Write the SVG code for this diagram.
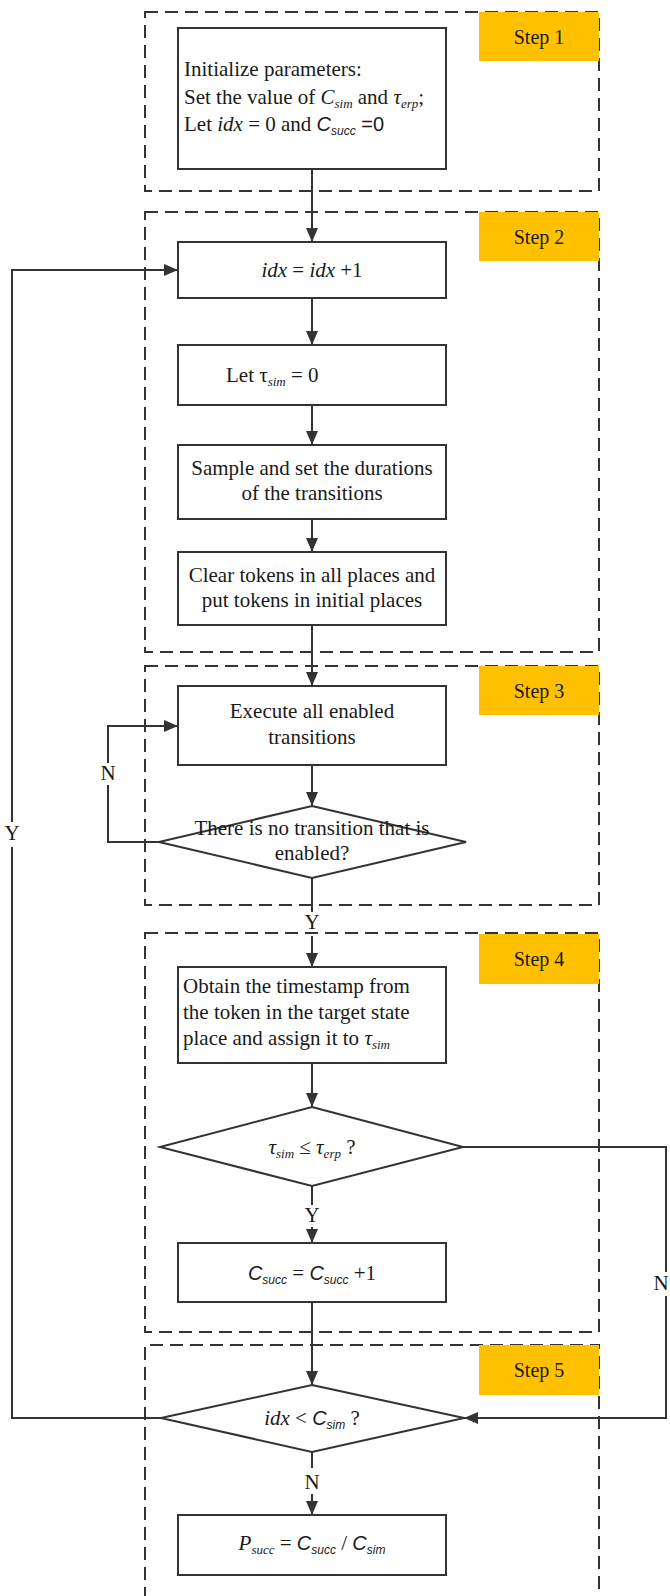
<svg xmlns="http://www.w3.org/2000/svg" width="670" height="1596" viewBox="0 0 670 1596">
<defs>
<marker id="ah" markerUnits="userSpaceOnUse" markerWidth="14" markerHeight="12" refX="14" refY="6" orient="auto">
<path d="M0,0 L14,6 L0,12 z" fill="#333"/>
</marker>
<style>
.t{font-family:"Liberation Serif","Times New Roman",serif;font-size:21px;fill:#1a1a1a}
.c{text-anchor:middle}
.i{font-style:italic}
.sans{font-family:"Liberation Sans",Arial,sans-serif;font-size:20px}
.sub{font-size:13px;font-style:italic}
.ssub{font-family:"Liberation Sans",Arial,sans-serif;font-size:12px;font-style:italic}
.box{fill:#fff;stroke:#333;stroke-width:2}
.dash{fill:none;stroke:#333;stroke-width:2;stroke-dasharray:13 7}
.step{fill:#FFC000}
.st{font-family:"Liberation Serif","Times New Roman",serif;font-size:20px;fill:#1a1a1a;text-anchor:middle}
.ln{fill:none;stroke:#333;stroke-width:2}
</style>
</defs>
<rect width="670" height="1596" fill="#fff"/>

<g id="step-frames">
<rect class="dash" x="145" y="12" width="454" height="179"/>
<rect class="dash" x="145" y="212" width="454" height="440"/>
<rect class="dash" x="145" y="666" width="454" height="239"/>
<rect class="dash" x="145" y="933" width="454" height="399"/>
<path class="dash" d="M145,1600 V1345 H599 V1600"/>
</g>

<g id="step1-label"><rect class="step" x="479" y="12" width="120" height="49"/><text class="st" x="539" y="43.5">Step 1</text></g>
<g id="step2-label"><rect class="step" x="479" y="212" width="120" height="49"/><text class="st" x="539" y="243.5">Step 2</text></g>
<g id="step3-label"><rect class="step" x="479" y="666" width="120" height="49"/><text class="st" x="539" y="697.5">Step 3</text></g>
<g id="step4-label"><rect class="step" x="479" y="934" width="120" height="50"/><text class="st" x="539" y="966">Step 4</text></g>
<g id="step5-label"><rect class="step" x="479" y="1345" width="120" height="50"/><text class="st" x="539" y="1377">Step 5</text></g>

<g id="connectors">
<path class="ln" d="M312,169 V242" marker-end="url(#ah)"/>
<path class="ln" d="M312,298 V345" marker-end="url(#ah)"/>
<path class="ln" d="M312,405 V445" marker-end="url(#ah)"/>
<path class="ln" d="M312,519 V552" marker-end="url(#ah)"/>
<path class="ln" d="M312,625 V686" marker-end="url(#ah)"/>
<path class="ln" d="M312,765 V806" marker-end="url(#ah)"/>
<path class="ln" d="M312,878 V912 M312,936 V967" marker-end="url(#ah)"/>
<path class="ln" d="M159,842 H108 V785 M108,763 V726 H178" marker-end="url(#ah)"/>
<path class="ln" d="M312,1063 V1107" marker-end="url(#ah)"/>
<path class="ln" d="M312,1186 V1205 M312,1227 V1243" marker-end="url(#ah)"/>
<path class="ln" d="M463,1147 H666 V1272 M666,1296 V1418 H464" marker-end="url(#ah)"/>
<path class="ln" d="M312,1302 V1385" marker-end="url(#ah)"/>
<path class="ln" d="M161,1418 H12 V847 M12,822 V270 H178" marker-end="url(#ah)"/>
<path class="ln" d="M312,1452 V1468 M312,1494 V1515" marker-end="url(#ah)"/>
<text class="t c" x="108" y="780">N</text>
<text class="t c" x="12" y="840">Y</text>
<text class="t c" x="312" y="929">Y</text>
<text class="t c" x="312" y="1222">Y</text>
<text class="t c" x="661" y="1290">N</text>
<text class="t c" x="312" y="1489">N</text>
</g>

<g id="init">
<rect class="box" x="178" y="28" width="268" height="141"/>
<text class="t" x="184" y="76">Initialize parameters:</text>
<text class="t" x="184" y="104">Set the value of <tspan class="i">C</tspan><tspan class="sub" dy="4">sim</tspan><tspan dy="-4"> and </tspan><tspan class="i">τ</tspan><tspan class="sub" dy="4">erp</tspan><tspan dy="-4">;</tspan></text>
<text class="t" x="184" y="131">Let <tspan class="i">idx</tspan> = 0 and <tspan class="sans i">C</tspan><tspan class="ssub" dy="4">succ</tspan><tspan class="sans" dy="-4"> =0</tspan></text>
</g>

<g id="idx-inc">
<rect class="box" x="178" y="242" width="268" height="56"/>
<text class="t c" x="312" y="277"><tspan class="i">idx</tspan> = <tspan class="i">idx</tspan> +1</text>
</g>

<g id="let-tau">
<rect class="box" x="178" y="345" width="268" height="60"/>
<text class="t" x="226" y="382">Let τ<tspan class="sub" dy="4">sim</tspan><tspan dy="-4"> = 0</tspan></text>
</g>

<g id="sample">
<rect class="box" x="178" y="445" width="268" height="74"/>
<text class="t c" x="312" y="475">Sample and set the durations</text>
<text class="t c" x="312" y="500">of the transitions</text>
</g>

<g id="clear">
<rect class="box" x="178" y="552" width="268" height="73"/>
<text class="t c" x="312" y="582">Clear tokens in all places and</text>
<text class="t c" x="312" y="607">put tokens in initial places</text>
</g>

<g id="execute">
<rect class="box" x="178" y="686" width="268" height="79"/>
<text class="t c" x="312" y="718">Execute all enabled</text>
<text class="t c" x="312" y="744">transitions</text>
</g>

<g id="no-enabled">
<polygon class="box" points="312,806 466,842 312,878 159,842"/>
<text class="t c" x="312" y="835">There is no transition that is</text>
<text class="t c" x="312" y="860">enabled?</text>
</g>

<g id="obtain">
<rect class="box" x="178" y="967" width="268" height="96"/>
<text class="t" x="183" y="993">Obtain the timestamp from</text>
<text class="t" x="183" y="1019">the token in the target state</text>
<text class="t" x="183" y="1045">place and assign it to <tspan class="i">τ</tspan><tspan class="sub" dy="4">sim</tspan></text>
</g>

<g id="compare-tau">
<polygon class="box" points="312,1107 463,1147 312,1186 160,1147"/>
<text class="t c" x="312" y="1154" fill="#444"><tspan class="i">τ</tspan><tspan class="sub" dy="4">sim</tspan><tspan dy="-4"> ≤ </tspan><tspan class="i">τ</tspan><tspan class="sub" dy="4">erp</tspan><tspan dy="-4"> ?</tspan></text>
</g>

<g id="succ-inc">
<rect class="box" x="178" y="1243" width="268" height="59"/>
<text class="t c" x="312" y="1280"><tspan class="sans i">C</tspan><tspan class="ssub" dy="4">succ</tspan><tspan dy="-4"> = </tspan><tspan class="sans i">C</tspan><tspan class="ssub" dy="4">succ</tspan><tspan dy="-4"> +1</tspan></text>
</g>

<g id="compare-idx">
<polygon class="box" points="312,1385 464,1418 312,1452 161,1418"/>
<text class="t c" x="312" y="1425"><tspan class="i">idx</tspan> &lt; <tspan class="sans i">C</tspan><tspan class="ssub" dy="4">sim</tspan><tspan dy="-4"> ?</tspan></text>
</g>

<g id="result">
<rect class="box" x="178" y="1515" width="268" height="60"/>
<text class="t c" x="312" y="1550"><tspan class="i">P</tspan><tspan class="sub" dy="4">succ</tspan><tspan dy="-4"> = </tspan><tspan class="sans i">C</tspan><tspan class="ssub" dy="4">succ</tspan><tspan dy="-4"> / </tspan><tspan class="sans i">C</tspan><tspan class="ssub" dy="4">sim</tspan></text>
</g>
</svg>
